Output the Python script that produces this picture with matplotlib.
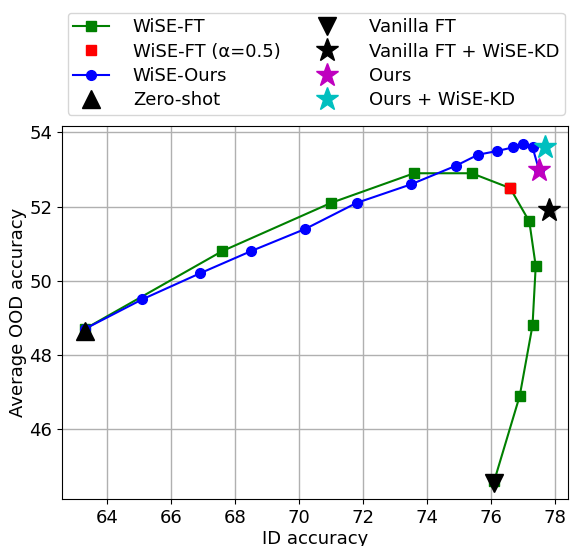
import matplotlib
matplotlib.use('Agg')
import matplotlib.pyplot as plt

# WiSE-FT curve (alpha 0 -> 1)
wise_ft_id = [63.3, 67.6, 71.0, 73.6, 75.4, 76.6, 77.2, 77.4, 77.3, 76.9, 76.1]
wise_ft_ood = [48.7, 50.8, 52.1, 52.9, 52.9, 52.5, 51.6, 50.4, 48.8, 46.9, 44.6]
wise_ft_half = (76.6, 52.5)

# WiSE-Ours curve
wise_ours_id = [63.3, 65.1, 66.9, 68.5, 70.2, 71.8, 73.5, 74.9, 75.6, 76.2, 76.7, 77.0, 77.3, 77.5]
wise_ours_ood = [48.7, 49.5, 50.2, 50.8, 51.4, 52.1, 52.6, 53.1, 53.4, 53.5, 53.6, 53.7, 53.6, 53.0]

zero_shot = (63.3, 48.65)
vanilla_ft = (76.1, 44.55)
vanilla_kd = (77.8, 51.9)
ours = (77.5, 53.0)
ours_kd = (77.7, 53.6)

fig = plt.figure(figsize=(5.7, 5.46), dpi=100)
ax = fig.add_axes([0.109, 0.086, 0.887, 0.683])

ax.plot(wise_ft_id, wise_ft_ood, color='green', marker='s', markersize=7, label='WiSE-FT')
ax.plot(*wise_ft_half, linestyle='none', color='red', marker='s', markersize=7, label='WiSE-FT (α=0.5)')
ax.plot(wise_ours_id, wise_ours_ood, color='blue', marker='o', markersize=7, label='WiSE-Ours')
ax.plot(*zero_shot, linestyle='none', color='black', marker='^', markersize=13, label='Zero-shot')
ax.plot(*vanilla_ft, linestyle='none', color='black', marker='v', markersize=13, label='Vanilla FT')
ax.plot(*vanilla_kd, linestyle='none', color='black', marker='*', markersize=17, label='Vanilla FT + WiSE-KD')
ax.plot(*ours, linestyle='none', color='m', marker='*', markersize=17, label='Ours')
ax.plot(*ours_kd, linestyle='none', color='c', marker='*', markersize=17, label='Ours + WiSE-KD')

ax.set_xlim(62.6, 78.4)
ax.set_ylim(44.12, 54.17)
ax.set_xticks([64, 66, 68, 70, 72, 74, 76, 78])
ax.set_yticks([46, 48, 50, 52, 54])
ax.tick_params(labelsize=13)
ax.grid(True, linewidth=1)
ax.set_xlabel('ID accuracy', fontsize=13, labelpad=2)
ax.set_ylabel('Average OOD accuracy', fontsize=13, labelpad=2)

fig.legend(loc='upper center', bbox_to_anchor=(0.555, 0.993), ncol=2, fontsize=13,
           columnspacing=1.6, handletextpad=1.3, borderpad=0.3, labelspacing=0.35)

fig.savefig('out.png', dpi=100)
